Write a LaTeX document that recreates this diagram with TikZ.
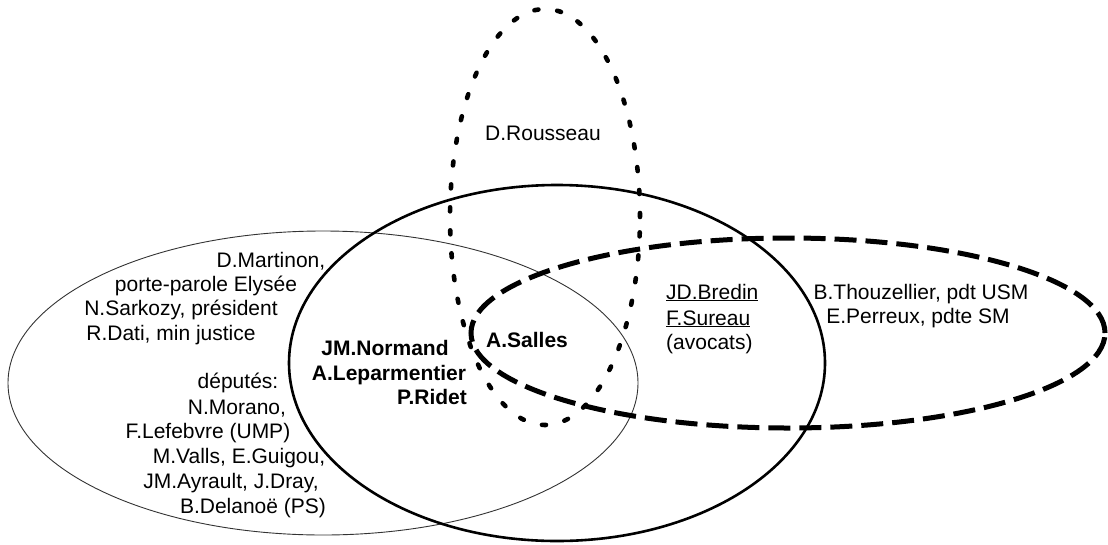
\documentclass[tikz,border=0pt]{standalone}
\usepackage{fontspec}
\setmainfont{Liberation Sans}
\usetikzlibrary{positioning}

\begin{document}
\begin{tikzpicture}[
	x=1pt, y=-1pt,
	thinring/.style={draw=black!80, line width=0.9pt},
	boldring/.style={draw=black, line width=2.6pt},
	dotring/.style={draw=black, line width=4.6pt, line cap=round, dash pattern=on 4pt off 19pt},
	dashring/.style={draw=black, line width=5pt, dash pattern=on 22pt off 9pt},
	member/.style={font=\fontsize{21}{25}\selectfont, inner sep=0pt, anchor=base},
	lawyer/.style={member, anchor=base west},
	core/.style={member, font=\fontsize{21}{25}\selectfont\bfseries}
]
\useasboundingbox (0,0) rectangle (1108,544);

% the four groups
\draw[thinring] (323,383) ellipse [x radius=315pt, y radius=152pt];
\draw[boldring] (557,363) ellipse [x radius=268pt, y radius=178pt];
\draw[dotring] (545,217) ellipse [x radius=95pt, y radius=208pt];
\draw[dashring] (788,333) ellipse [x radius=317pt, y radius=95pt];

% politicians
\node[member] (martinon) at (271,267) {D.Martinon,};
\node[member] (elysee) at (206,291) {porte-parole Elysée};
\node[member] (sarkozy) at (181,315) {N.Sarkozy, président};
\node[member] (dati) at (171,340) {R.Dati, min justice};
\node[member] (deputes) at (238,388) {députés:};
\node[member] (morano) at (237,414) {N.Morano,};
\node[member] (lefebvre) at (208,438) {F.Lefebvre (UMP)};
\node[member] (valls) at (239,463) {M.Valls, E.Guigou,};
\node[member] (ayrault) at (231,488) {JM.Ayrault, J.Dray,};
\node[member] (delanoe) at (253,513) {B.Delanoë (PS)};

% journalists
\node[core] (normand) at (385,355) {JM.Normand};
\node[core] (leparmentier) at (389,380) {A.Leparmentier};
\node[core] (ridet) at (432,404) {P.Ridet};
\node[core] (salles) at (527,347) {A.Salles};

\node[member] (rousseau) at (543,140) {D.Rousseau};

% lawyers and magistrates
\node[lawyer] (bredin) at (666,299) {\underline{JD.Bredin}};
\node[lawyer] (sureau) at (666,325) {\underline{F.Sureau}};
\node[lawyer] (avocats) at (666,349) {(avocats)};
\node[member] (thouzellier) at (921,299) {B.Thouzellier, pdt USM};
\node[member] (perreux) at (918,323) {E.Perreux, pdte SM};

\end{tikzpicture}
\end{document}
